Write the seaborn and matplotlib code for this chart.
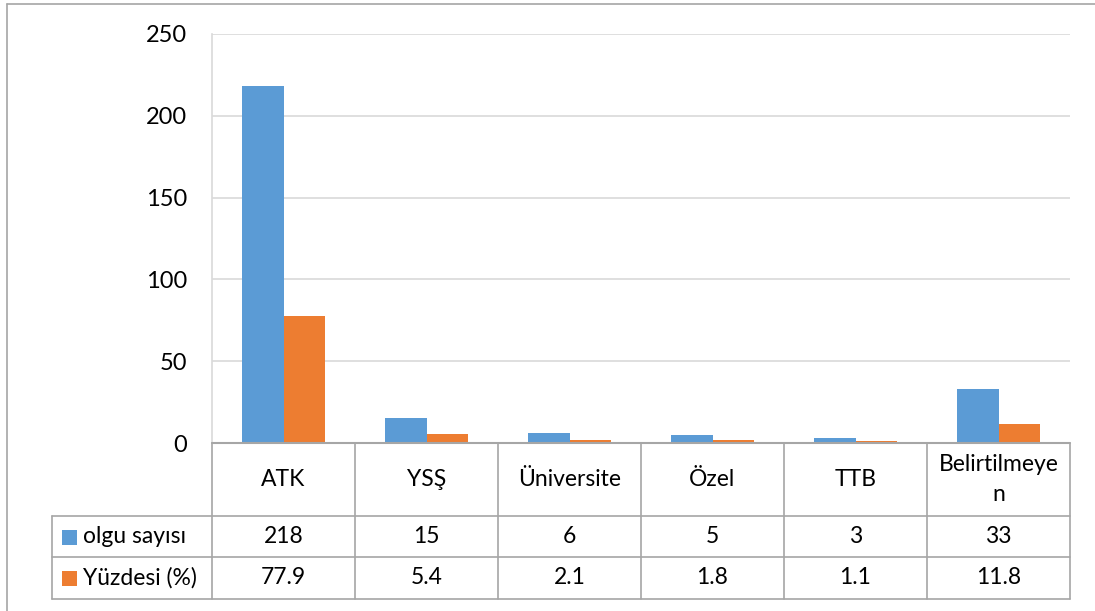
import numpy as np
import pandas as pd
import matplotlib
matplotlib.use("Agg")
import matplotlib.pyplot as plt
import seaborn as sns

# Data
categories = ["ATK", "YSŞ", "Üniversite", "Özel", "TTB", "Belirtilmeyen"]
category_labels = ["ATK", "YSŞ", "Üniversite", "Özel", "TTB", "Belirtilmeye\nn"]
series_names = ["olgu sayısı", "Yüzdesi (%)"]
olgu_sayisi = [218, 15, 6, 5, 3, 33]
yuzdesi = [77.9, 5.4, 2.1, 1.8, 1.1, 11.8]
yticks = [0, 50, 100, 150, 200, 250]

colors = ["#5B9BD5", "#ED7D31"]
grid_color = "#D9D9D9"
line_color = "#A6A6A6"

df = pd.DataFrame({
    "kategori": categories * 2,
    "seri": [series_names[0]] * len(categories) + [series_names[1]] * len(categories),
    "deger": olgu_sayisi + yuzdesi,
})

sns.set_theme(style="white")
plt.rcParams["font.family"] = ["Lato", "DejaVu Sans"]

W, H = 1095, 611
fig = plt.figure(figsize=(W / 100, H / 100), dpi=100)

# Plot area in pixel coordinates
px_left, px_right, px_top, px_bottom = 212, 1070, 34, 443
ax = fig.add_axes([px_left / W, (H - px_bottom) / H,
                   (px_right - px_left) / W, (px_bottom - px_top) / H])

sns.barplot(data=df, x="kategori", y="deger", hue="seri", order=categories,
            hue_order=series_names, palette=colors, width=0.574,
            saturation=1, ax=ax, legend=False, edgecolor="none", linewidth=0)

ax.set_xlim(-0.5, len(categories) - 0.5)
ax.set_ylim(0, 250)
ax.set_yticks(yticks)
ax.set_yticklabels([str(t) for t in yticks], fontsize=17, color="#000000")
ax.tick_params(axis="y", length=0, pad=18)
ax.set_xticks([])
ax.set_xlabel("")
ax.set_ylabel("")
ax.yaxis.grid(True, color=grid_color, linewidth=1.2)
ax.set_axisbelow(True)
for side in ["top", "right", "bottom"]:
    ax.spines[side].set_visible(False)
ax.spines["left"].set_color(grid_color)
ax.spines["left"].set_linewidth(1.2)

# Overlay for the data table and the outer frame, in pixel units
ov = fig.add_axes([0, 0, 1, 1], zorder=5)
ov.set_xlim(0, W)
ov.set_ylim(H, 0)
ov.axis("off")
ov.patch.set_alpha(0)

# Outer frame
ov.plot([7, W], [4, 4], color=line_color, lw=1.2)
ov.plot([7, 7], [4, H], color=line_color, lw=1.2)

col_w = (px_right - px_left) / len(categories)
row_cat_bottom = 516
row1_bottom = 557
row2_bottom = 599
label_left = 52

# Horizontal table lines
ov.plot([px_left, px_right], [px_bottom, px_bottom], color=line_color, lw=1.5)
for y in [row_cat_bottom, row1_bottom, row2_bottom]:
    ov.plot([label_left, px_right], [y, y], color=line_color, lw=1.2)
# Vertical table lines
for i in range(len(categories) + 1):
    x = px_left + i * col_w
    ov.plot([x, x], [px_bottom, row2_bottom], color=line_color, lw=1.2)
ov.plot([label_left, label_left], [row_cat_bottom, row2_bottom], color=line_color, lw=1.2)

fs = 16.5
# Category row
for i, lab in enumerate(category_labels):
    cx = px_left + (i + 0.5) * col_w
    ov.text(cx, (px_bottom + row_cat_bottom) / 2, lab, ha="center", va="center",
            fontsize=fs, color="#000000", linespacing=1.5)

# Series rows
rows = [(olgu_sayisi, row_cat_bottom, row1_bottom),
        (yuzdesi, row1_bottom, row2_bottom)]
for (vals, y0, y1), name, c in zip(rows, series_names, colors):
    cy = (y0 + y1) / 2
    ov.add_patch(plt.Rectangle((62, cy - 7), 15, 15, color=c, lw=0))
    ov.text(83, cy, name, ha="left", va="center", fontsize=fs, color="#000000")
    for i, v in enumerate(vals):
        cx = px_left + (i + 0.5) * col_w
        ov.text(cx, cy, f"{v:g}", ha="center", va="center", fontsize=fs, color="#000000")

fig.savefig("out.png", dpi=100, facecolor="white")
